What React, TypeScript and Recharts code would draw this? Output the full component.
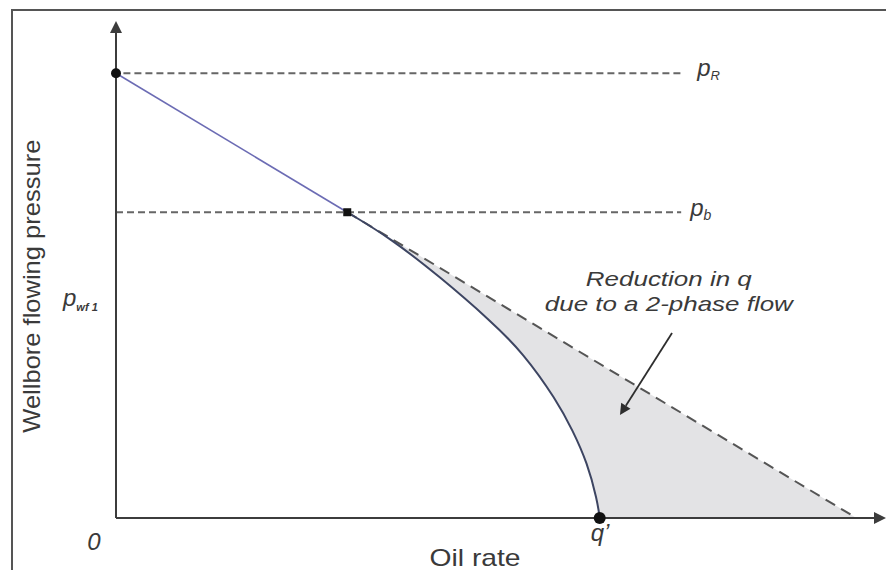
import React from "react";
import {
  ComposedChart,
  XAxis,
  YAxis,
  Area,
  Line,
  Scatter,
  ReferenceLine,
  ReferenceDot,
} from "recharts";

// pressures (psi) and oil rates (STB/d)
const reservoirPressure = 4000;
const bubblePressure = 2750;
const bubbleRate = 937;
const straightLineMaxRate = 3000;
const twoPhaseMaxRate = 1960;
const levelLineEnd = 2290;

const curveRates = [937, 1110, 1315, 1515, 1650, 1785, 1850, 1910, 1950, 1960];
const curvePressures = [2750, 2520, 2165, 1780, 1485, 1060, 790, 495, 160, 0];

const arrowFrom = { x: 2253, y: 1664 };
const arrowTo = { x: 2042, y: 926 };

const liquidLine = [
  { q: 0, p: reservoirPressure },
  { q: bubbleRate, p: bubblePressure },
];
const extrapolatedLine = [
  { q: bubbleRate, p: bubblePressure },
  { q: straightLineMaxRate, p: 0 },
];
const twoPhaseCurve = curveRates.map((q, i) => ({ q, p: curvePressures[i] }));

const FONT = '"Liberation Sans", Arial, sans-serif';
const INK = "#3a3a3a";

function ArrowLine(props: any) {
  const { x1, y1, x2, y2, stroke, strokeWidth, head = 12 } = props;
  const a = Math.atan2(y2 - y1, x2 - x1);
  const w = head * 0.5;
  const bx = x2 - head * Math.cos(a);
  const by = y2 - head * Math.sin(a);
  const pts = [
    [x2, y2],
    [bx + w * Math.sin(a), by - w * Math.cos(a)],
    [bx - w * Math.sin(a), by + w * Math.cos(a)],
  ]
    .map((p) => p.join(","))
    .join(" ");
  return (
    <g>
      <line x1={x1} y1={y1} x2={bx} y2={by} stroke={stroke} strokeWidth={strokeWidth} />
      <polygon points={pts} fill={stroke} />
    </g>
  );
}

function note(key: string, q: number, p: number, render: (x: number, y: number) => React.ReactNode) {
  return (
    <ReferenceDot
      key={key}
      x={q}
      y={p}
      r={0}
      ifOverflow="visible"
      shape={(s: any) => <g>{render(s.cx, s.cy)}</g>}
    />
  );
}

export default function App() {
  return (
    <div
      style={{
        position: "absolute",
        left: 0,
        top: 0,
        width: 886,
        height: 570,
        overflow: "hidden",
        background: "#fff",
      }}
    >
      <div
        style={{
          position: "absolute",
          left: 11,
          top: 9,
          width: 900,
          height: 600,
          borderTop: "2px solid #555",
          borderLeft: "2px solid #555",
        }}
      />
      <div style={{ position: "absolute", left: 0, top: 0 }}>
        <ComposedChart
          width={886}
          height={570}
          margin={{ top: 21, right: 0, bottom: 52, left: 116 }}
        >
          <XAxis type="number" dataKey="q" domain={[0, 3120]} hide />
          <YAxis type="number" dataKey="p" domain={[0, 4470]} hide />

          <Area
            data={extrapolatedLine}
            dataKey="p"
            type="linear"
            stroke="none"
            fill="#e3e3e5"
            fillOpacity={1}
            isAnimationActive={false}
          />
          <Area
            data={twoPhaseCurve}
            dataKey="p"
            type="basis"
            stroke="none"
            fill="#ffffff"
            fillOpacity={1}
            isAnimationActive={false}
          />
          {/* hides the anti-aliased seam where the two fills meet */}
          <ReferenceLine
            segment={[
              { x: bubbleRate, y: 0 },
              { x: bubbleRate, y: bubblePressure - 40 },
            ]}
            stroke="#ffffff"
            strokeWidth={2}
          />

          <Line
            data={extrapolatedLine}
            dataKey="p"
            type="linear"
            stroke="#555"
            strokeWidth={2}
            strokeDasharray="11 7"
            dot={false}
            isAnimationActive={false}
          />
          <Line
            data={liquidLine}
            dataKey="p"
            type="linear"
            stroke="#6c6cb4"
            strokeWidth={1.6}
            dot={false}
            isAnimationActive={false}
          />
          <Line
            data={twoPhaseCurve}
            dataKey="p"
            type="basis"
            stroke="#3d4562"
            strokeWidth={2}
            dot={false}
            isAnimationActive={false}
          />

          <ReferenceLine
            segment={[
              { x: 30, y: reservoirPressure },
              { x: levelLineEnd, y: reservoirPressure },
            ]}
            stroke="#666"
            strokeWidth={2}
            strokeDasharray="7 4"
          />
          <ReferenceLine
            segment={[
              { x: 0, y: bubblePressure },
              { x: levelLineEnd, y: bubblePressure },
            ]}
            stroke="#666"
            strokeWidth={2}
            strokeDasharray="7 4"
          />

          <ReferenceLine
            segment={[
              { x: 0, y: 0 },
              { x: 3120, y: 0 },
            ]}
            stroke="#3c3c3c"
            strokeWidth={2}
            shape={(s: any) => <ArrowLine {...s} head={12} />}
          />
          <ReferenceLine
            segment={[
              { x: 0, y: 0 },
              { x: 0, y: 4470 },
            ]}
            stroke="#3c3c3c"
            strokeWidth={2}
            shape={(s: any) => <ArrowLine {...s} head={12} />}
          />
          <ReferenceLine
            segment={[arrowFrom, arrowTo]}
            stroke="#2e2e2e"
            strokeWidth={1.8}
            ifOverflow="visible"
            shape={(s: any) => <ArrowLine {...s} head={11} />}
          />

          <Scatter
            data={[{ q: 0, p: reservoirPressure }]}
            dataKey="p"
            isAnimationActive={false}
            shape={(s: any) => <circle cx={s.cx} cy={s.cy} r={5} fill="#111" />}
          />
          <Scatter
            data={[{ q: bubbleRate, p: bubblePressure }]}
            dataKey="p"
            isAnimationActive={false}
            shape={(s: any) => (
              <rect x={s.cx - 4} y={s.cy - 4} width={8} height={8} fill="#111" />
            )}
          />
          <Scatter
            data={[{ q: twoPhaseMaxRate, p: 0 }]}
            dataKey="p"
            isAnimationActive={false}
            shape={(s: any) => <circle cx={s.cx} cy={s.cy} r={6} fill="#111" />}
          />

          {note("pR", levelLineEnd, reservoirPressure, (x, y) => (
            <text x={x + 16} y={y + 2.5} fill={INK} fontFamily={FONT} fontStyle="italic" fontSize={24}>
              p
              <tspan dy={4} fontSize={13}>R</tspan>
            </text>
          ))}
          {note("pb", levelLineEnd, bubblePressure, (x, y) => (
            <text x={x + 9} y={y + 3.3} fill={INK} fontFamily={FONT} fontStyle="italic" fontSize={24}>
              p
              <tspan dy={4} fontSize={14}>b</tspan>
            </text>
          ))}
          {note("pwf", 0, 1910, (x, y) => (
            <text x={x - 53} y={y} fill={INK} fontFamily={FONT} fontStyle="italic" fontSize={24}>
              p
              <tspan dy={5} fontSize={11} fontWeight="bold">wf 1</tspan>
            </text>
          ))}
          {note("zero", 0, 0, (x, y) => (
            <text x={x - 22} y={y + 32} fill={INK} fontFamily={FONT} fontStyle="italic" fontSize={24} textAnchor="middle">
              0
            </text>
          ))}
          {note("qprime", twoPhaseMaxRate, 0, (x, y) => (
            <text x={x - 9} y={y + 23} fill={INK} fontFamily={FONT} fontStyle="italic" fontSize={24}>
              q’
            </text>
          ))}
          {note("xlabel", 1455, 0, (x, y) => (
            <text
              x={x}
              y={y + 48}
              fill={INK}
              fontFamily={FONT}
              fontSize={24}
              textAnchor="middle"
              textLength={91}
              lengthAdjust="spacingAndGlyphs"
            >
              Oil rate
            </text>
          ))}
          {note("ylabel", 0, 2085, (x, y) => (
            <text
              x={x - 76}
              y={y}
              transform={`rotate(-90, ${x - 76}, ${y})`}
              fill={INK}
              fontFamily={FONT}
              fontSize={24}
              textAnchor="middle"
              textLength={293}
              lengthAdjust="spacingAndGlyphs"
            >
              Wellbore flowing pressure
            </text>
          ))}
          {note("annot", 2240, 2085, (x, y) => (
            <g fill={INK} fontFamily={FONT} fontStyle="italic" fontSize={21} textAnchor="middle">
              <text x={x} y={y} textLength={166} lengthAdjust="spacingAndGlyphs">
                Reduction in q
              </text>
              <text x={x} y={y + 25} textLength={248} lengthAdjust="spacingAndGlyphs">
                due to a 2-phase flow
              </text>
            </g>
          ))}
        </ComposedChart>
      </div>
    </div>
  );
}
